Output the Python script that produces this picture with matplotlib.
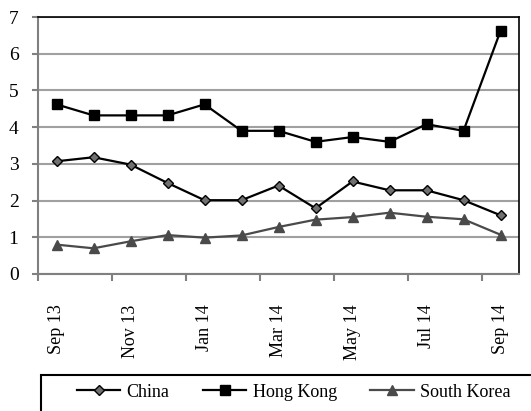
import matplotlib
matplotlib.use("Agg")
import matplotlib.pyplot as plt
from matplotlib.patches import Rectangle
import numpy as np

months = ["Sep 13", "Oct 13", "Nov 13", "Dec 13", "Jan 14", "Feb 14", "Mar 14",
          "Apr 14", "May 14", "Jun 14", "Jul 14", "Aug 14", "Sep 14"]
china = [3.07, 3.18, 2.98, 2.48, 2.01, 2.01, 2.41, 1.79, 2.52, 2.28, 2.28, 2.01, 1.6]
hong_kong = [4.62, 4.32, 4.32, 4.32, 4.62, 3.9, 3.9, 3.6, 3.73, 3.6, 4.08, 3.9, 6.62]
south_korea = [0.8, 0.7, 0.89, 1.06, 0.99, 1.05, 1.28, 1.48, 1.55, 1.67, 1.56, 1.49, 1.07]
yticks = [0, 1, 2, 3, 4, 5, 6, 7]

plt.rcParams['font.family'] = ['Liberation Serif', 'DejaVu Serif']

W, H = 531, 411
fig = plt.figure(figsize=(W / 100, H / 100), dpi=100)
ax = fig.add_axes([38 / W, 1 - 274 / H, (519 - 38) / W, (274 - 17) / H])

x = np.arange(len(months))
ax.plot(x, china, color='black', lw=1.6, marker='D', ms=5, mfc='#707070', mec='black', mew=1.0,
        label='China', zorder=4)
ax.plot(x, hong_kong, color='black', lw=1.6, marker='s', ms=6.5, mfc='black', mec='black',
        label='Hong Kong', zorder=4)
ax.plot(x, south_korea, color='#4a4a4a', lw=1.6, marker='^', ms=6.5, mfc='#4a4a4a', mec='#4a4a4a',
        label='South Korea', zorder=4)

ax.set_xlim(-0.5, len(months) - 0.5)
ax.set_ylim(0, 7)
ax.set_yticks(yticks)
ax.set_yticklabels([str(v) for v in yticks], fontsize=14)
ax.yaxis.grid(True, color='#a0a0a0', lw=1.5)
ax.set_axisbelow(True)

ax.set_xticks(x[::2])
ax.set_xticklabels(months[::2], rotation=90, fontsize=13, va='top')
ax.set_xticks(np.arange(-0.5, len(months), 2), minor=True)
ax.tick_params(axis='x', which='major', length=0, pad=22)
ax.tick_params(axis='x', which='minor', length=5, width=1.5, color='#808080', direction='out')
ax.tick_params(axis='y', length=4, width=1.5, color='#808080', pad=10)

for s in ['left', 'bottom']:
    ax.spines[s].set_color('#808080')
    ax.spines[s].set_linewidth(1.5)
for s in ['top', 'right']:
    ax.spines[s].set_color('black')
    ax.spines[s].set_linewidth(1.2)

fig.patches.append(Rectangle((41 / W, -0.1), 1.0, 0.1 + (411 - 375) / H, transform=fig.transFigure,
                             fill=False, edgecolor='black', lw=1.5))
fig.legend(loc='center left', bbox_to_anchor=(68 / W, 1 - 392 / H), ncol=3, frameon=False,
           fontsize=13, handlelength=2.4, handletextpad=0.35, columnspacing=1.85, borderpad=0)

fig.savefig('out.png', dpi=100)
